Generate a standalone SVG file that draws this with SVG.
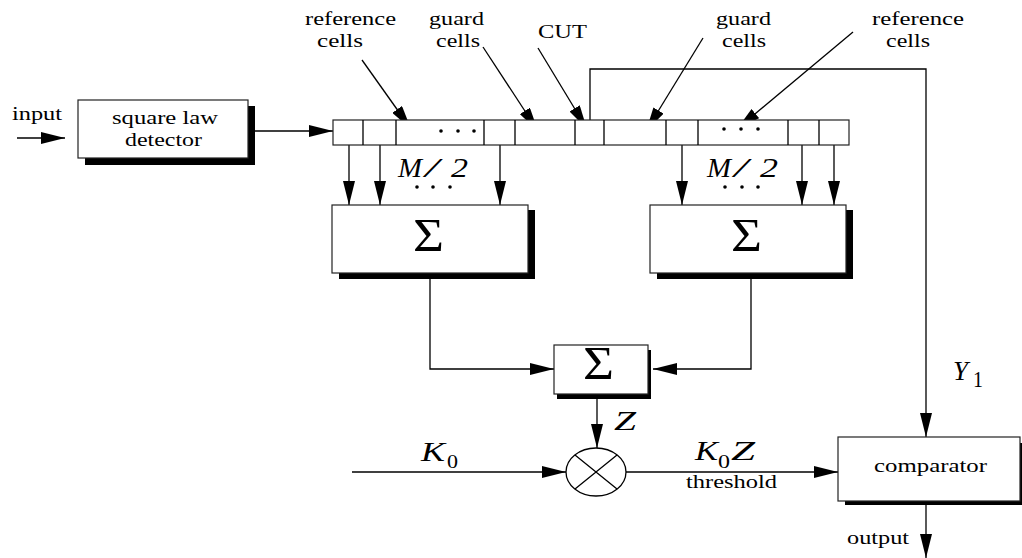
<svg xmlns="http://www.w3.org/2000/svg" width="1022" height="558" viewBox="0 0 1022 558">
<defs>
<marker id="ah" viewBox="0 0 24 12" refX="24" refY="6" markerWidth="24" markerHeight="12" markerUnits="userSpaceOnUse" orient="auto">
<path d="M0,0 L24,6 L0,12 z" fill="#000"/>
</marker>
<style>
.ln{fill:none;stroke:#000;stroke-width:1.3}
.ar{fill:none;stroke:#000;stroke-width:1.3;marker-end:url(#ah)}
.box{fill:#fff;stroke:#222;stroke-width:1.2}
.sh{fill:#000}
.t{font-family:"Liberation Serif","Times New Roman",serif;font-size:19px;fill:#000}
.m{font-family:"Liberation Serif","Times New Roman",serif;font-style:italic;font-size:28px;fill:#000}
.sig{font-family:"Liberation Serif","Times New Roman",serif;font-size:46px;fill:#000}
</style>
</defs>
<rect width="1022" height="558" fill="#fff"/>

<g id="connectors">
<line class="ar" x1="17" y1="138" x2="65" y2="138"/>
<line class="ar" x1="255" y1="131" x2="333" y2="131"/>
<line class="ar" x1="362" y1="60" x2="411" y2="129"/>
<line class="ar" x1="483" y1="47" x2="538" y2="131"/>
<line class="ar" x1="538" y1="48" x2="587" y2="129"/>
<line class="ar" x1="703" y1="38" x2="646" y2="131"/>
<line class="ar" x1="853" y1="32" x2="737" y2="129"/>
<line class="ar" x1="349" y1="145" x2="349" y2="205"/>
<line class="ar" x1="380" y1="145" x2="380" y2="205"/>
<line class="ar" x1="500" y1="145" x2="500" y2="205"/>
<line class="ar" x1="682" y1="145" x2="682" y2="205"/>
<line class="ar" x1="802" y1="145" x2="802" y2="205"/>
<line class="ar" x1="834" y1="145" x2="834" y2="205"/>
<polyline class="ar" points="430,279 430,369 554,369"/>
<polyline class="ar" points="751,279 751,369 653,369"/>
<line class="ar" x1="597" y1="399" x2="597" y2="448"/>
<line class="ar" x1="352" y1="472" x2="566" y2="472"/>
<line class="ar" x1="626" y1="472" x2="838" y2="472"/>
<polyline class="ar" points="590,120 590,69 926,69 926,437"/>
<line class="ar" x1="926" y1="505" x2="926" y2="558"/>
</g>

<g id="input-label">
<text class="t" x="12" y="120" textLength="50" lengthAdjust="spacingAndGlyphs">input</text>
</g>

<g id="detector">
<rect class="sh" x="85" y="106" width="170" height="59"/>
<rect class="box" x="78" y="100" width="170" height="58"/>
<text class="t" x="112" y="124" textLength="106" lengthAdjust="spacingAndGlyphs">square law</text>
<text class="t" x="125" y="146" textLength="77" lengthAdjust="spacingAndGlyphs">detector</text>
</g>

<g id="cells">
<rect x="333" y="120" width="516" height="25" fill="#fff" stroke="#222" stroke-width="1.2"/>
<path class="ln" d="M363,120V145M396,120V145M484,120V145M515,120V145M575,120V145M604,120V145M666,120V145M698,120V145M788,120V145M819,120V145"/>
<circle cx="441" cy="131" r="1.8"/><circle cx="458" cy="131" r="1.8"/><circle cx="474" cy="131" r="1.8"/>
<circle cx="724" cy="129" r="1.8"/><circle cx="741" cy="129" r="1.8"/><circle cx="758" cy="129" r="1.8"/>
</g>

<g id="labels-top">
<text class="t" x="305" y="25" textLength="91" lengthAdjust="spacingAndGlyphs">reference</text>
<text class="t" x="317" y="47" textLength="46" lengthAdjust="spacingAndGlyphs">cells</text>
<text class="t" x="429" y="25" textLength="55" lengthAdjust="spacingAndGlyphs">guard</text>
<text class="t" x="436" y="47" textLength="44" lengthAdjust="spacingAndGlyphs">cells</text>
<text class="t" x="538" y="38" textLength="49" lengthAdjust="spacingAndGlyphs">CUT</text>
<text class="t" x="716" y="25" textLength="55" lengthAdjust="spacingAndGlyphs">guard</text>
<text class="t" x="722" y="47" textLength="44" lengthAdjust="spacingAndGlyphs">cells</text>
<text class="t" x="872" y="25" textLength="92" lengthAdjust="spacingAndGlyphs">reference</text>
<text class="t" x="886" y="47" textLength="44" lengthAdjust="spacingAndGlyphs">cells</text>
</g>

<g id="m2-left">
<text class="m" y="177" font-size="30"><tspan x="398" textLength="24" lengthAdjust="spacingAndGlyphs">M</tspan><tspan x="425" textLength="14" lengthAdjust="spacingAndGlyphs">/</tspan><tspan x="451" textLength="17" lengthAdjust="spacingAndGlyphs">2</tspan></text>
<circle cx="417" cy="187" r="1.8"/><circle cx="433" cy="187" r="1.8"/><circle cx="450" cy="187" r="1.8"/>
</g>
<g id="m2-right">
<text class="m" y="177" font-size="30"><tspan x="707" textLength="24" lengthAdjust="spacingAndGlyphs">M</tspan><tspan x="734" textLength="14" lengthAdjust="spacingAndGlyphs">/</tspan><tspan x="760" textLength="18" lengthAdjust="spacingAndGlyphs">2</tspan></text>
<circle cx="725" cy="187" r="1.8"/><circle cx="742" cy="187" r="1.8"/><circle cx="758" cy="187" r="1.8"/>
</g>

<g id="sum-left">
<rect class="sh" x="339" y="210" width="196" height="69"/>
<rect class="box" x="332" y="205" width="196" height="68"/>
<text class="sig" x="413" y="251" textLength="31" lengthAdjust="spacingAndGlyphs">Σ</text>
</g>

<g id="sum-right">
<rect class="sh" x="657" y="210" width="196" height="69"/>
<rect class="box" x="650" y="205" width="196" height="68"/>
<text class="sig" x="731" y="251" textLength="31" lengthAdjust="spacingAndGlyphs">Σ</text>
</g>

<g id="sum-mid">
<rect class="sh" x="557" y="350" width="94" height="49"/>
<rect class="box" x="554" y="345" width="94" height="49"/>
<text class="sig" x="583" y="379" textLength="31" lengthAdjust="spacingAndGlyphs">Σ</text>
</g>

<g id="z-label">
<text class="m" x="614" y="430" textLength="22" lengthAdjust="spacingAndGlyphs">Z</text>
</g>

<g id="multiplier">
<ellipse cx="596" cy="472" rx="30" ry="24" fill="#fff" stroke="#000" stroke-width="1.3"/>
<path class="ln" d="M575,455L617,489M617,455L575,489"/>
</g>

<g id="k0-label">
<text class="m" y="461"><tspan x="421" textLength="24" lengthAdjust="spacingAndGlyphs">K</tspan><tspan x="447" y="468" font-style="normal" font-size="19" textLength="11" lengthAdjust="spacingAndGlyphs">0</tspan></text>
</g>

<g id="k0z-label">
<text class="m" y="460"><tspan x="695" textLength="23" lengthAdjust="spacingAndGlyphs">K</tspan><tspan x="718" y="468" font-style="normal" font-size="19" textLength="12" lengthAdjust="spacingAndGlyphs">0</tspan><tspan x="731" y="460" textLength="24" lengthAdjust="spacingAndGlyphs">Z</tspan></text>
<text class="t" x="686" y="488" textLength="91" lengthAdjust="spacingAndGlyphs">threshold</text>
</g>

<g id="y1-label">
<text class="m" y="380"><tspan x="953" textLength="15" lengthAdjust="spacingAndGlyphs">Y</tspan><tspan x="973" y="387" font-style="normal" font-size="24" textLength="10" lengthAdjust="spacingAndGlyphs">1</tspan></text>
</g>

<g id="comparator">
<rect class="sh" x="845" y="443" width="179" height="62"/>
<rect class="box" x="838" y="437" width="182" height="64"/>
<text class="t" x="874" y="472" textLength="113" lengthAdjust="spacingAndGlyphs">comparator</text>
</g>

<g id="output-label">
<text class="t" x="847" y="544" textLength="62" lengthAdjust="spacingAndGlyphs">output</text>
</g>
</svg>
